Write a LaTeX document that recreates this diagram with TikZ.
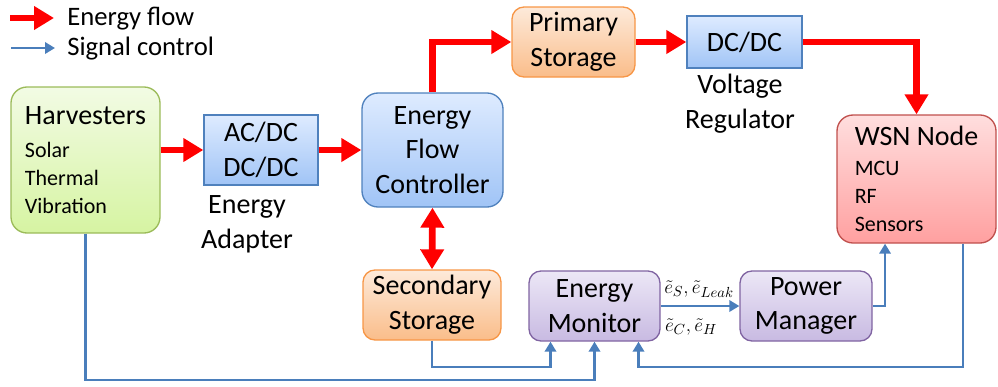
\documentclass[tikz,border=0pt]{standalone}
\usepackage{fontspec}
\setmainfont{Carlito}
\usetikzlibrary{arrows.meta}

\definecolor{grntop}{RGB}{242,251,228}
\definecolor{grnbot}{RGB}{214,244,162}
\definecolor{grnline}{RGB}{155,187,89}
\definecolor{blutop}{RGB}{222,235,255}
\definecolor{blubot}{RGB}{160,196,246}
\definecolor{bluline}{RGB}{79,129,189}
\definecolor{orgtop}{RGB}{253,234,218}
\definecolor{orgbot}{RGB}{250,189,138}
\definecolor{orgline}{RGB}{247,150,70}
\definecolor{redtop}{RGB}{255,222,222}
\definecolor{redbot}{RGB}{255,160,160}
\definecolor{redline}{RGB}{192,80,77}
\definecolor{purtop}{RGB}{236,231,246}
\definecolor{purbot}{RGB}{200,186,226}
\definecolor{purline}{RGB}{128,100,162}
\definecolor{sigblue}{RGB}{74,126,187}

\begin{document}
\begin{tikzpicture}[x=0.75pt, y=-0.75pt,
    big/.style={font=\fontsize{21}{26}\selectfont},
    small/.style={font=\fontsize{16.5}{21}\selectfont},
    box/.style={draw, line width=1pt, align=center, inner sep=0pt, big},
    greenbox/.style={box, draw=grnline, top color=grntop, bottom color=grnbot, rounded corners=12pt},
    bluebox/.style={box, draw=bluline, top color=blutop, bottom color=blubot},
    orangebox/.style={box, draw=orgline, top color=orgtop, bottom color=orgbot, rounded corners=9pt},
    redbox/.style={box, draw=redline, top color=redtop, bottom color=redbot, rounded corners=12pt},
    purplebox/.style={box, draw=purline, top color=purtop, bottom color=purbot, rounded corners=9pt},
    energy/.style={draw=red, line width=5pt, -{Triangle[width=17pt,length=15pt]}},
    signal/.style={draw=sigblue, line width=1.8pt, -{Triangle[width=8.5pt,length=7.5pt]}},
    caption/.style={inner sep=0pt, align=center, big}]
    \useasboundingbox (0,0) rectangle (998,386);
    % legend
    \coordinate (lgEa) at (10,18);
    \coordinate (lgEb) at (54,18);
    \coordinate (lgSa) at (11,48);
    \coordinate (lgSb) at (55,48);
    \draw [energy] (lgEa) -- (lgEb);
    \draw [signal] (lgSa) -- (lgSb);
    \node [anchor=base west, inner sep=0pt, font=\fontsize{20}{24}\selectfont] (lgE) at (67,25) {Energy flow};
    \node [anchor=base west, inner sep=0pt, font=\fontsize{20}{24}\selectfont] (lgS) at (67,55) {Signal control};
    % blocks
    \node [greenbox, small, align=left, minimum width=111.75pt, minimum height=109.5pt] (harv) at (85.5,160)
        {{\fontsize{21}{26}\selectfont Harvesters}\\[4pt]Solar\\Thermal\\Vibration};
    \node [bluebox, minimum width=85.5pt, minimum height=52.5pt] (acdc) at (261,150) {AC/DC\\DC/DC};
    \node [caption] (adapt) at (247,224) {Energy\\Adapter};
    \node [bluebox, rounded corners=12pt, minimum width=105.75pt, minimum height=85.5pt] (efc) at (432.5,150) {Energy\\Flow\\Controller};
    \node [orangebox, minimum width=92.25pt, minimum height=52.5pt] (prim) at (573.5,42) {Primary\\Storage};
    \node [bluebox, minimum width=86.25pt, minimum height=39pt] (dcdc) at (744.5,42) {DC/DC};
    \node [caption] (volt) at (740,104) {Voltage\\Regulator};
    \node [redbox, small, align=left, minimum width=119.25pt, minimum height=96pt] (wsn) at (916.5,179)
        {{\fontsize{21}{26}\selectfont WSN Node}\\[1pt]MCU\\RF\\Sensors};
    \node [orangebox, minimum width=103.5pt, minimum height=52.5pt] (sec) at (432,305) {Secondary\\Storage};
    \node [purplebox, minimum width=98.25pt, minimum height=52.5pt] (em) at (594.5,306) {Energy\\Monitor};
    \node [purplebox, minimum width=99pt, minimum height=52.5pt] (pm) at (806,306) {Power\\Manager};
    % estimates
    \node [inner sep=0pt, font=\fontsize{15.5}{19}\selectfont] (eup) at (699,289) {$\tilde{e}_S,\tilde{e}_{Leak}$};
    \node [inner sep=0pt, font=\fontsize{15.5}{19}\selectfont] (edn) at (691,327) {$\tilde{e}_C,\tilde{e}_H$};
    % energy flow
    \draw [energy] (acdc.west -| harv.east) -- (acdc.west);
    \draw [energy] (acdc.east) -- (acdc.east -| efc.west);
    \draw [energy] (efc.north) |- (prim.west);
    \draw [energy] (prim.east) -- (dcdc.west);
    \draw [energy] (dcdc.east) -| (wsn.north);
    \draw [energy, {Triangle[width=17pt,length=15pt]}-{Triangle[width=17pt,length=15pt]}] (efc.south) -- (sec.north);
    % signal control
    \coordinate (low) at (0,380);
    \coordinate (mid) at (0,367);
    \coordinate (emL) at ([xshift=-33pt]em.south);
    \coordinate (emR) at ([xshift=33pt]em.south);
    \coordinate (wsnIn) at ([xshift=-23.6pt]wsn.south);
    \coordinate (wsnOut) at ([xshift=35pt]wsn.south);
    \draw [signal] (harv.south) -- (harv.south |- low) -| (em.south);
    \draw [signal] (sec.south) -- (sec.south |- mid) -| (emL);
    \draw [signal] (wsnOut) -- (wsnOut |- mid) -| (emR);
    \draw [signal] (em.east) -- (pm.west);
    \draw [signal] (pm.east) -| (wsnIn);
\end{tikzpicture}
\end{document}
